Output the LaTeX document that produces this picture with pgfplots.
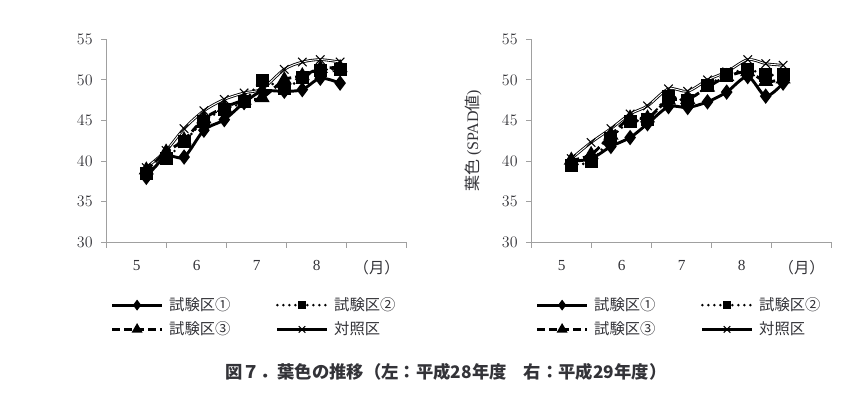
\documentclass[border=0pt]{standalone}
\usepackage{fontspec}
\setmainfont{Liberation Serif}
\newfontfamily\jp{Noto Sans CJK JP}
\usepackage{pgfplots}
\pgfplotsset{compat=1.18}
\definecolor{axgray}{HTML}{A0A0A0}
\definecolor{lbl}{HTML}{333338}
\pgfplotsset{
  s1/.style={black, line width=2.2pt, solid, mark=diamond*, mark size=4pt, mark options={solid}},
  s2/.style={black, line width=2.2pt, dash pattern=on 0pt off 4.5pt, line cap=round, mark=square*, mark size=3.8pt, mark options={solid}},
  s3/.style={black, line width=2.2pt, dash pattern=on 6pt off 3pt, mark=triangle*, mark size=4.4pt, mark options={solid}},
  sc/.style={black, line width=2pt, solid, mark=x, mark size=4.5pt, mark options={solid, line width=0.8pt}},
  l1/.style={black, line width=2.2pt, solid, mark=diamond*, mark size=2.3pt, mark options={solid}},
  l2/.style={black, line width=2.2pt, dash pattern=on 0pt off 4.5pt, line cap=round, mark=square*, mark size=2pt, mark options={solid}},
  l3/.style={black, line width=2.2pt, dash pattern=on 6pt off 3pt, mark=triangle*, mark size=2.6pt, mark options={solid}},
  lc/.style={black, line width=2.2pt, solid, mark=x, mark size=3.5pt, mark options={solid, line width=0.8pt}},
  base/.style={
    width=225pt, height=152.25pt, scale only axis,
    xmin=5, xmax=10, ymin=30, ymax=55,
    axis lines*=left,
    axis line style={draw=axgray, line width=0.8pt},
    tick style={draw=axgray, line width=0.8pt},
    tick align=outside, major tick length=4pt,
    xtick={5,...,10}, xticklabels={},
    extra x ticks={5.5,6.5,7.5,8.5,9.5},
    extra x tick labels={5,6,7,8,{\jp （月）}},
    extra x tick style={major tick length=0pt, tick style={draw=none}, xticklabel style={yshift=-10pt}},
    ytick={30,35,...,55},
    ticklabel style={color=lbl, font=\fontsize{11.5}{13}\selectfont},
    yticklabel style={xshift=-3pt},
    clip=false,
    legend columns=2,
    legend cell align=left,
    legend style={draw=none, fill=none, at={(axis description cs:0,-0.245)}, anchor=north west,
      font=\jp\fontsize{11.5}{13}\selectfont, text=lbl,
      /tikz/every even column/.append style={column sep=32pt},
      row sep=3pt},
    legend image code/.code={\draw[mark repeat=2,mark phase=2,#1] plot coordinates {(0pt,0pt)(18.5pt,0pt)(37pt,0pt)};\path (39.5pt,0pt);},
  },
}
\begin{document}
\begin{tikzpicture}
\useasboundingbox (0pt,0pt) rectangle (645.75pt,-294.75pt);
% left chart
\begin{axis}[base, at={(80.025pt,-181.725pt)}, anchor=south west]
\addlegendimage{l1}\addlegendentry{試験区①}
\addlegendimage{l2}\addlegendentry{試験区②}
\addlegendimage{l3}\addlegendentry{試験区③}
\addlegendimage{lc}\addlegendentry{対照区}
\addplot[black, line width=2pt, smooth, tension=0.5, forget plot] coordinates {(5.66,39.2)(5.99,41.3)(6.29,44.0)(6.62,46.2)(6.96,47.6)(7.29,48.4)(7.59,48.9)(7.96,51.3)(8.26,52.2)(8.56,52.5)(8.89,52.2)};
\addplot[white, line width=0.7pt, smooth, tension=0.5, forget plot] coordinates {(5.66,39.2)(5.99,41.3)(6.29,44.0)(6.62,46.2)(6.96,47.6)(7.29,48.4)(7.59,48.9)(7.96,51.3)(8.26,52.2)(8.56,52.5)(8.89,52.2)};
\addplot[s1, smooth, tension=0.5, forget plot] coordinates {(5.66,38.0)(5.99,40.6)(6.29,40.5)(6.62,43.8)(6.96,45.1)(7.29,47.2)(7.59,48.6)(7.96,48.6)(8.26,48.8)(8.56,50.2)(8.89,49.6)};
\addplot[s3, smooth, tension=0.5, forget plot] coordinates {(5.66,38.9)(5.99,41.1)(6.29,42.6)(6.62,45.2)(6.96,46.6)(7.29,47.5)(7.59,47.8)(7.96,50.0)(8.26,50.5)(8.56,51.4)(8.89,51.5)};
\addplot[s2, smooth, tension=0.5, forget plot] coordinates {(5.66,38.5)(5.99,40.3)(6.29,42.4)(6.62,44.9)(6.96,46.4)(7.29,47.3)(7.59,49.9)(7.96,48.9)(8.26,50.3)(8.56,51.2)(8.89,51.3)};
\addplot[sc, only marks, forget plot] coordinates {(5.66,39.2)(5.99,41.3)(6.29,44.0)(6.62,46.2)(6.96,47.6)(7.29,48.4)(7.59,48.9)(7.96,51.3)(8.26,52.2)(8.56,52.5)(8.89,52.2)};
\end{axis}
% right chart
\begin{axis}[base, at={(398.775pt,-181.725pt)}, anchor=south west,
  ylabel={{\jp 葉色} (SPAD{\jp 値})},
  ylabel style={at={(axis description cs:-0.195,0.5)}, anchor=center, color=lbl, font=\fontsize{12}{14}\selectfont}]
\addlegendimage{l1}\addlegendentry{試験区①}
\addlegendimage{l2}\addlegendentry{試験区②}
\addlegendimage{l3}\addlegendentry{試験区③}
\addlegendimage{lc}\addlegendentry{対照区}
\addplot[black, line width=2pt, smooth, tension=0.5, forget plot] coordinates {(5.66,40.3)(5.99,42.3)(6.32,44.0)(6.64,45.8)(6.93,46.8)(7.28,48.9)(7.6,48.6)(7.93,50.0)(8.25,51.0)(8.6,52.5)(8.9,52.0)(9.19,51.8)};
\addplot[white, line width=0.7pt, smooth, tension=0.5, forget plot] coordinates {(5.66,40.3)(5.99,42.3)(6.32,44.0)(6.64,45.8)(6.93,46.8)(7.28,48.9)(7.6,48.6)(7.93,50.0)(8.25,51.0)(8.6,52.5)(8.9,52.0)(9.19,51.8)};
\addplot[s1, smooth, tension=0.5, forget plot] coordinates {(5.66,40.0)(5.99,40.3)(6.32,41.8)(6.64,42.9)(6.93,44.6)(7.28,46.7)(7.6,46.6)(7.93,47.3)(8.25,48.5)(8.6,50.4)(8.9,48.0)(9.19,49.6)};
\addplot[s3, smooth, tension=0.5, forget plot] coordinates {(5.66,40.1)(5.99,40.8)(6.32,43.2)(6.64,45.3)(6.93,45.3)(7.28,47.5)(7.6,47.6)(7.93,49.1)(8.25,50.4)(8.6,51.0)(8.9,49.8)(9.19,50.1)};
\addplot[s2, smooth, tension=0.5, forget plot] coordinates {(5.66,39.5)(5.99,40.0)(6.32,42.8)(6.64,44.9)(6.93,45.1)(7.28,47.9)(7.6,47.4)(7.93,49.3)(8.25,50.6)(8.6,51.3)(8.9,50.6)(9.19,50.7)};
\addplot[sc, only marks, forget plot] coordinates {(5.66,40.3)(5.99,42.3)(6.32,44.0)(6.64,45.8)(6.93,46.8)(7.28,48.9)(7.6,48.6)(7.93,50.0)(8.25,51.0)(8.6,52.5)(8.9,52.0)(9.19,51.8)};
\end{axis}
\node[font=\jp\bfseries\fontsize{13}{15}\selectfont, text=lbl] at (334.5pt,-279pt) {図７．葉色の推移（左：平成28年度　右：平成29年度）};
\end{tikzpicture}
\end{document}
